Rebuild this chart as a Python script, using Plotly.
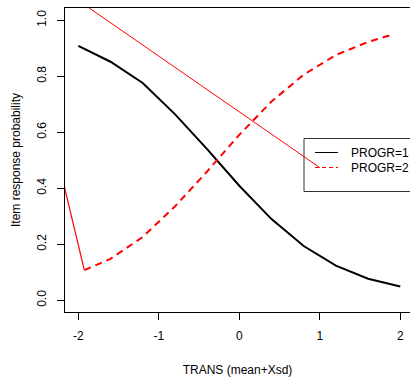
import plotly.graph_objects as go

# ---- data ----
x_progr1 = [-2.0, -1.6, -1.2, -0.8, -0.4, 0.0, 0.4, 0.8, 1.2, 1.6, 2.0]
y_progr1 = [0.909, 0.852, 0.776, 0.665, 0.540, 0.409, 0.290, 0.194, 0.124, 0.077, 0.049]

x_progr2 = [-1.925, -1.6, -1.2, -0.8, -0.4, 0.0, 0.4, 0.8, 1.2, 1.6, 1.87]
y_progr2 = [0.108, 0.148, 0.226, 0.335, 0.460, 0.591, 0.710, 0.806, 0.876, 0.923, 0.946]

# thin red pointer segments
seg1_x = [-2.3, -1.925]
seg1_y = [0.558, 0.108]
seg2_x = [-2.0, 1.0]
seg2_y = [1.071, 0.474]

x_ticks = [-2, -1, 0, 1, 2]
y_ticks = [0.0, 0.2, 0.4, 0.6, 0.8, 1.0]
legend_labels = ["PROGR=1", "PROGR=2"]

FONT = "Liberation Sans, Arial, sans-serif"

# pixel -> data helpers for layout decorations
def px2x(px):
    return (px - 239.3) / 80.5

def py2y(py):
    return (300.3 - py) / 280.0

fig = go.Figure()
fig.add_trace(go.Scatter(x=x_progr1, y=y_progr1, mode="lines",
                         line=dict(color="black", width=2), showlegend=False))
fig.add_trace(go.Scatter(x=x_progr2, y=y_progr2, mode="lines",
                         line=dict(color="#ff0000", width=2, dash="7px,5px"), showlegend=False))
fig.add_trace(go.Scatter(x=seg1_x, y=seg1_y, mode="lines",
                         line=dict(color="#ff0000", width=1.2), showlegend=False))
fig.add_trace(go.Scatter(x=seg2_x, y=seg2_y, mode="lines",
                         line=dict(color="#ff0000", width=1), showlegend=False))

shapes = [
    # legend box
    dict(type="rect", xref="x", yref="y", x0=px2x(304), x1=px2x(440), y0=py2y(191.5), y1=py2y(138.5),
         line=dict(color="#333333", width=1), fillcolor="white", layer="below"),
    dict(type="line", xref="x", yref="y", x0=px2x(315), x1=px2x(338), y0=py2y(152.5), y1=py2y(152.5),
         line=dict(color="black", width=1)),
    dict(type="line", xref="x", yref="y", x0=px2x(315), x1=px2x(338), y0=py2y(167.5), y1=py2y(167.5),
         line=dict(color="#ff0000", width=1, dash="4px,3px")),
]
annotations = [
    dict(x=px2x(349), y=py2y(152.5), xref="x", yref="y", text=legend_labels[0], showarrow=False,
         xanchor="left", yanchor="middle", font=dict(family=FONT, size=12, color="black")),
    dict(x=px2x(349), y=py2y(167.5), xref="x", yref="y", text=legend_labels[1], showarrow=False,
         xanchor="left", yanchor="middle", font=dict(family=FONT, size=12, color="black")),
]

fig.update_layout(
    width=410, height=377,
    margin=dict(l=65, r=0, t=8, b=65),
    paper_bgcolor="white", plot_bgcolor="white",
    font=dict(family=FONT, size=12, color="black"),
    shapes=shapes, annotations=annotations,
    showlegend=False,
    xaxis=dict(range=[px2x(65), px2x(410)], tickvals=x_ticks, ticktext=[str(v) for v in x_ticks],
               showline=True, linecolor="black", linewidth=1, mirror=True,
               ticks="outside", ticklen=7, tickcolor="black", tickwidth=1,
               showgrid=False, zeroline=False, ticklabelstandoff=6,
               title=dict(text="TRANS (mean+Xsd)", standoff=24, font=dict(size=12))),
    yaxis=dict(range=[py2y(312), py2y(8)], tickvals=y_ticks, tickformat=".1f",
               showline=True, linecolor="black", linewidth=1, mirror=False,
               ticks="outside", ticklen=7, tickcolor="black", tickwidth=1,
               tickangle=-90, showgrid=False, zeroline=False, ticklabelstandoff=6,
               title=dict(text="Item response probability", standoff=12, font=dict(size=12))),
)

fig.write_html("out.html")
